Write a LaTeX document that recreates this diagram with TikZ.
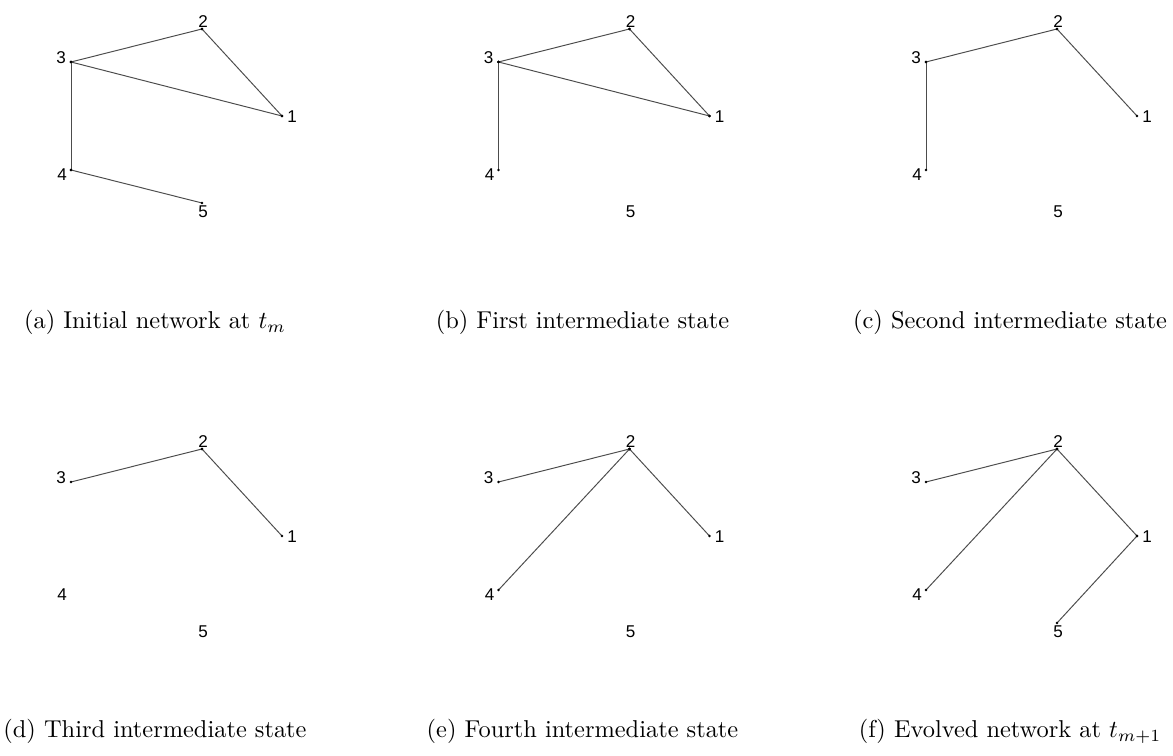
\documentclass[tikz,border=0pt]{standalone}
\usepackage{fontspec}
\newfontfamily\labelfont{Liberation Sans}
\usetikzlibrary{positioning}

\begin{document}
\begin{tikzpicture}[
 x=0.41pt,y=-0.41pt,
 lbl/.style={font=\labelfont\fontsize{7}{8}\selectfont,inner sep=0pt},
 edge/.style={draw=black!70,line width=0.4pt},
 caption/.style={anchor=base,inner sep=0pt}
]
\useasboundingbox (0,0) rectangle (1173,756);
\foreach \p/\col/\row/\edges/\txt in {
 a/0/0/{3/2,3/1,2/1,3/4,4/5}/{(a) Initial network at $t_m$},
 b/1/0/{3/2,3/1,2/1,3/4}/{(b) First intermediate state},
 c/2/0/{3/2,2/1,3/4}/{(c) Second intermediate state},
 d/0/1/{3/2,2/1}/{(d) Third intermediate state},
 e/1/1/{3/2,2/1,2/4}/{(e) Fourth intermediate state},
 f/2/1/{3/2,2/1,2/4,1/5}/{(f) Evolved network at $t_{m+1}$}}
{
 \begin{scope}[shift={(427.5*\col,420*\row)}]
  % vertices of the network
  \coordinate (\p-1) at (282,116);
  \coordinate (\p-2) at (202,29);
  \coordinate (\p-3) at (71,62);
  \coordinate (\p-4) at (71,170);
  \coordinate (\p-5) at (202,203);
  \node[lbl] (\p-l1) at (292,117) {1};
  \node[lbl] (\p-l2) at (203,22) {2};
  \node[lbl] (\p-l3) at (61,58) {3};
  \node[lbl] (\p-l4) at (62,175) {4};
  \node[lbl] (\p-l5) at (203,212) {5};
  % links
  \foreach \u/\v in \edges {
   \draw[edge] (\p-\u) -- (\p-\v);
   \fill (\p-\u) circle (0.55pt);
   \fill (\p-\v) circle (0.55pt);
  }
  \node[caption] (\p-cap) at (155,{329-11*\row}) {\txt};
 \end{scope}
}
\end{tikzpicture}
\end{document}
